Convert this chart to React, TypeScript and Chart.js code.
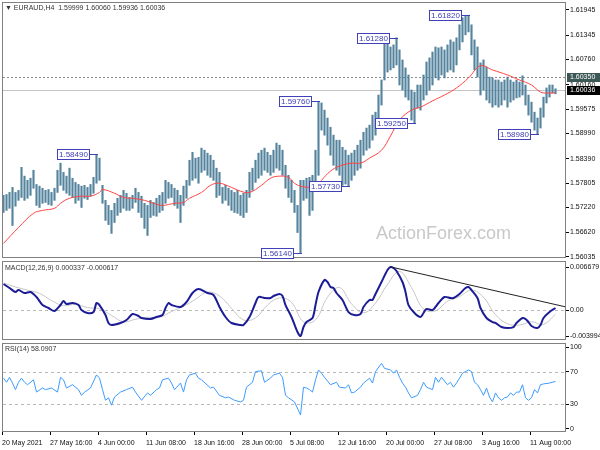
import React, { useEffect, useRef } from 'react';
import { Chart, registerables } from 'chart.js';
Chart.register(...registerables);

// ---- Price bars (H4, two bars per item) ----
const highs = [
  1.5751,1.5753,1.5758,1.5770,1.5758,1.5763,1.5818,1.5797,1.5787,1.5792,
  1.5811,1.5777,1.5773,1.5768,1.5763,1.5765,1.5758,1.5768,1.5811,1.5828,
  1.5806,1.5797,1.5816,1.5792,1.5782,1.5777,1.5773,1.5775,1.5770,1.5777,
  1.5794,1.5849,1.5840,1.5775,1.5739,1.5727,1.5715,1.5732,1.5744,1.5751,
  1.5763,1.5756,1.5746,1.5751,1.5768,1.5758,1.5749,1.5732,1.5727,1.5739,
  1.5734,1.5744,1.5751,1.5758,1.5787,1.5782,1.5777,1.5768,1.5763,1.5751,
  1.5773,1.5787,1.5835,1.5854,1.5840,1.5842,1.5864,1.5859,1.5852,1.5847,
  1.5835,1.5816,1.5806,1.5770,1.5775,1.5768,1.5763,1.5758,1.5763,1.5751,
  1.5756,1.5763,1.5806,1.5816,1.5835,1.5852,1.5859,1.5864,1.5854,1.5847,
  1.5859,1.5876,1.5871,1.5859,1.5823,1.5799,1.5787,1.5763,1.5727,1.5787,
  1.5787,1.5792,1.5794,1.5799,1.5859,1.5976,1.5972,1.5955,1.5936,1.5914,
  1.5895,1.5883,1.5883,1.5866,1.5859,1.5847,1.5852,1.5859,1.5871,1.5883,
  1.5902,1.5912,1.5919,1.5943,1.5950,1.5991,1.6027,1.6123,1.6116,1.6106,
  1.6111,1.6128,1.6099,1.6075,1.6056,1.6039,1.6003,1.5998,1.6015,1.6015,
  1.6039,1.6070,1.6080,1.6094,1.6106,1.6104,1.6106,1.6099,1.6111,1.6123,
  1.6118,1.6128,1.6159,1.6176,1.6180,1.6182,1.6159,1.6123,1.6106,1.6068,
  1.6075,1.6058,1.6034,1.6032,1.6027,1.6027,1.6022,1.6027,1.6034,1.6027,
  1.6022,1.6027,1.6022,1.6037,1.6015,1.5991,1.5974,1.5950,1.5936,1.5960,
  1.5986,1.6008,1.6015,1.6015,1.6006,
];
const lows = [
  1.5710,1.5715,1.5720,1.5679,1.5725,1.5739,1.5746,1.5739,1.5744,1.5751,
  1.5768,1.5727,1.5722,1.5732,1.5734,1.5729,1.5727,1.5739,1.5758,1.5775,
  1.5763,1.5756,1.5751,1.5746,1.5732,1.5739,1.5722,1.5744,1.5741,1.5749,
  1.5756,1.5780,1.5787,1.5732,1.5691,1.5681,1.5660,1.5686,1.5703,1.5710,
  1.5720,1.5715,1.5715,1.5720,1.5734,1.5710,1.5698,1.5672,1.5655,1.5698,
  1.5703,1.5701,1.5710,1.5715,1.5732,1.5744,1.5746,1.5727,1.5720,1.5686,
  1.5727,1.5744,1.5775,1.5787,1.5792,1.5780,1.5806,1.5811,1.5799,1.5794,
  1.5787,1.5746,1.5751,1.5732,1.5739,1.5727,1.5715,1.5710,1.5708,1.5703,
  1.5698,1.5710,1.5746,1.5763,1.5782,1.5792,1.5799,1.5811,1.5806,1.5799,
  1.5806,1.5816,1.5811,1.5799,1.5768,1.5746,1.5734,1.5710,1.5662,1.5614,
  1.5739,1.5744,1.5703,1.5715,1.5763,1.5799,1.5907,1.5895,1.5871,1.5847,
  1.5823,1.5811,1.5799,1.5775,1.5778,1.5773,1.5787,1.5799,1.5811,1.5816,
  1.5847,1.5859,1.5864,1.5883,1.5895,1.5931,1.5967,1.6027,1.6046,1.6051,
  1.6056,1.6063,1.6015,1.6003,1.5986,1.5979,1.5931,1.5925,1.5960,1.5955,
  1.5979,1.5991,1.6003,1.6015,1.6032,1.6027,1.6039,1.6032,1.6046,1.6051,
  1.6046,1.6063,1.6099,1.6118,1.6135,1.6142,1.6087,1.6051,1.6034,1.5991,
  1.6003,1.5979,1.5972,1.5962,1.5967,1.5962,1.5967,1.5979,1.5962,1.5974,
  1.5979,1.5984,1.5986,1.5991,1.5967,1.5943,1.5926,1.5907,1.5898,1.5912,
  1.5938,1.5972,1.5986,1.5996,1.5994,
];

// ---- Moving average (red) ----
const maIdx = [0,5,10,13,17,19,22,26,29,32,33,37,40,43,47,50,53,57,60,62,66,69,72,76,79,82,86,89,92,95,97,99,102,104,106,109,112,116,119,122,126,129,132,136,139,143,147,151,155,159,163,168,172,176,179,181,184];
const maVal = [1.5636,1.5674,1.5708,1.5715,1.5720,1.5732,1.5744,1.5749,1.5749,1.5758,1.5765,1.5756,1.5746,1.5744,1.5739,1.5732,1.5727,1.5732,1.5734,1.5744,1.5758,1.5775,1.5780,1.5770,1.5761,1.5758,1.5775,1.5792,1.5797,1.5794,1.5780,1.5773,1.5770,1.5770,1.5787,1.5809,1.5821,1.5828,1.5828,1.5840,1.5859,1.5893,1.5931,1.5955,1.5962,1.5977,1.5991,1.6008,1.6032,1.6061,1.6051,1.6039,1.6027,1.6015,1.5998,1.5996,1.5996];

// ---- MACD ----
const macdIdx = [0,2,4,5,7,9,11,13,15,17,19,20,21,23,25,26,28,30,31,32,34,35,36,39,41,43,45,46,49,51,53,54,55,56,59,61,63,65,68,70,72,74,76,79,80,82,84,85,87,89,90,92,93,94,96,98,99,100,101,103,104,105,107,108,109,110,111,113,115,117,119,120,122,123,124,126,128,129,130,131,133,134,135,137,139,140,141,143,144,145,147,149,150,152,154,155,156,158,159,161,163,164,166,168,170,171,173,174,175,176,178,179,180,182,184];
const macdVal = [0.00405,0.00343,0.00282,0.00312,0.00266,0.00282,0.00204,0.00080,0.00034,-0.00012,0.00080,0.00142,0.00096,0.00111,0.00080,0.00003,-0.00043,-0.00028,0.00111,0.00080,-0.00074,-0.00198,-0.00229,-0.00198,-0.00152,-0.00059,-0.00090,-0.00121,-0.00136,-0.00105,-0.00074,0.00034,0.00111,0.00080,0.00050,0.00127,0.00266,0.00328,0.00266,0.00235,0.00050,-0.00105,-0.00198,-0.00229,-0.00229,-0.00105,0.00111,0.00204,0.00189,0.00189,0.00220,0.00251,0.00220,0.00080,-0.00105,-0.00337,-0.00399,-0.00260,-0.00183,-0.00121,0.00080,0.00282,0.00467,0.00436,0.00359,0.00343,0.00266,0.00158,-0.00028,-0.00074,-0.00059,0.00050,0.00158,0.00158,0.00251,0.00436,0.00622,0.00668,0.00653,0.00606,0.00436,0.00282,0.00080,-0.00043,-0.00105,-0.00043,0.00019,0.00003,0.00050,0.00111,0.00204,0.00189,0.00189,0.00251,0.00343,0.00359,0.00312,0.00189,0.00034,-0.00121,-0.00183,-0.00198,-0.00260,-0.00275,-0.00260,-0.00198,-0.00121,-0.00136,-0.00183,-0.00244,-0.00275,-0.00229,-0.00121,-0.00028,0.00034];
const sigIdx = [0,4,8,12,16,20,24,28,32,36,40,44,48,52,56,60,64,68,72,76,80,84,88,92,96,100,104,108,112,116,120,124,128,132,136,140,144,148,152,156,160,164,168,172,176,180,184];
const sigVal = [0.0042,0.0036,0.0031,0.0026,0.0015,0.0007,0.0009,0.0004,0.0002,-0.0008,-0.0018,-0.0014,-0.0011,-0.0011,-0.0002,0.0006,0.0017,0.0028,0.0022,0.0003,-0.0015,-0.0012,0.0008,0.0019,0.0012,-0.0018,-0.0015,0.0020,0.0035,0.0010,-0.0004,0.0011,0.0040,0.0060,0.0035,0.0002,-0.0001,0.0014,0.0021,0.0031,0.0020,-0.0007,-0.0021,-0.0023,-0.0018,-0.0022,-0.0006];
const trendIdx = [129, 187.5];
const trendVal = [0.00670, 0.00050];

// ---- RSI(14) ----
const rsiIdx = [0,1,2,3,4,5,6,7,8,10,11,13,14,16,18,19,20,21,23,25,26,27,29,31,32,33,34,35,36,37,39,41,43,44,46,48,49,51,52,53,55,56,57,59,60,61,62,64,65,66,69,70,72,74,75,77,79,80,81,83,84,86,87,89,90,92,93,94,95,97,99,100,101,102,103,104,105,106,107,109,111,112,114,115,116,117,119,120,122,123,124,126,127,129,130,131,132,133,134,135,136,138,139,140,141,143,144,145,146,148,149,150,151,153,155,156,157,158,159,160,161,162,163,164,165,166,167,168,169,170,171,172,173,174,175,176,177,178,179,180,182,184];
const rsiVal = [62,57,63,56,48,57,62,57,54,60,45,50,48,50,45,63,60,50,54,48,41,45,50,66,62,48,35,38,29,39,45,48,51,45,35,44,41,48,50,60,62,56,48,56,45,60,66,68,62,60,50,51,41,38,39,35,33,35,51,57,70,71,57,62,66,68,63,41,38,33,17,51,50,48,45,60,72,68,63,54,57,51,50,54,44,45,51,56,62,56,70,80,74,72,68,72,63,56,51,44,38,41,48,57,51,48,63,57,63,54,57,51,56,68,72,70,57,54,48,41,50,39,33,44,38,35,38,39,44,41,45,45,54,38,35,38,48,44,54,55,56,58.09];

// ---- Axes / labels ----
const priceTicks = [1.61945,1.61345,1.60760,1.60160,1.59575,1.58990,1.58390,1.57805,1.57220,1.56620,1.56035];
const macdTicks = [0.006679, 0, -0.003994];
const macdTickLabels = ['0.006679', '0.00', '-0.003994'];
const rsiTicks = [100, 70, 30, 0];
const rsiLevels = [70, 30];
const xTickIdx = [-0.5,15.5,31.5,47.5,63.5,79.5,95.5,111.5,127.5,143.5,159.5,175.5];
const xTickLabels = ['20 May 2021','27 May 16:00','4 Jun 00:00','11 Jun 08:00','18 Jun 16:00','28 Jun 00:00','5 Jul 08:00','12 Jul 16:00','20 Jul 00:00','27 Jul 08:00','3 Aug 16:00','11 Aug 00:00'];
const zzIdx = [31, 99, 105, 115, 131, 137, 155, 178];
const zzPrice = [1.58490, 1.56140, 1.59760, 1.57730, 1.61280, 1.59250, 1.61820, 1.58980];
const askLevel = 1.60350;
const bidLevel = 1.60036;
const mainTitle = '\u25BC EURAUD,H4  1.59999 1.60060 1.59936 1.60036';
const macdTitle = 'MACD(12,26,9) 0.000337 -0.000617';
const rsiTitle = 'RSI(14) 58.0907';
const watermark = 'ActionForex.com';

const FONT = "'Liberation Sans', Arial, sans-serif";
const X_MIN = -0.5;
const X_MAX = 187.5;

function xScale(display: boolean) {
  return {
    type: 'linear', min: X_MIN, max: X_MAX, display, offset: false,
    grid: { drawOnChartArea: false, drawTicks: true, tickLength: 3, color: '#000', offset: false },
    border: { display: false },
    afterBuildTicks: (s: any) => { s.ticks = xTickIdx.map((v) => ({ value: v })); },
    afterFit: (s: any) => {
      s.height = display ? 18 : 0;
      s.paddingLeft = 0; s.paddingRight = 0; s.paddingTop = 0; s.paddingBottom = 0;
    },
    ticks: {
      autoSkip: false, maxRotation: 0, minRotation: 0, align: 'start', padding: 4,
      color: '#111', font: { family: FONT, size: 7 },
      callback: (_v: any, i: number) => xTickLabels[i],
    },
  };
}

function yScale(min: number, max: number, ticks: number[], labels: string[]) {
  return {
    type: 'linear', position: 'right', min, max,
    grid: { drawOnChartArea: false, drawTicks: true, tickLength: 3, color: '#000' },
    border: { display: false },
    afterBuildTicks: (s: any) => { s.ticks = ticks.map((v) => ({ value: v })); },
    afterFit: (s: any) => {
      s.width = 34;
      s.paddingLeft = 0; s.paddingRight = 0; s.paddingTop = 0; s.paddingBottom = 0;
    },
    ticks: {
      autoSkip: false, padding: 1, color: '#111', font: { family: FONT, size: 7 },
      callback: (_v: any, i: number) => labels[i],
    },
  };
}

function drawFrame(chart: any) {
  const { ctx, chartArea: a } = chart;
  ctx.save();
  ctx.strokeStyle = '#808080';
  ctx.lineWidth = 1;
  ctx.strokeRect(a.left + 0.5, a.top + 0.5, a.width - 1, a.height - 1);
  ctx.restore();
}

function drawTitle(chart: any, text: string, dy: number) {
  const { ctx, chartArea: a } = chart;
  ctx.save();
  ctx.fillStyle = '#333';
  ctx.font = `7px ${FONT}`;
  ctx.textBaseline = 'middle';
  ctx.textAlign = 'left';
  ctx.fillText(text, a.left + 3, a.top + dy);
  ctx.restore();
}

function hLine(chart: any, value: number, color: string, dash: number[]) {
  const { ctx, chartArea: a, scales } = chart;
  const py = Math.round(scales.y.getPixelForValue(value)) + 0.5;
  ctx.save();
  ctx.strokeStyle = color;
  ctx.lineWidth = 1;
  ctx.setLineDash(dash);
  ctx.beginPath();
  ctx.moveTo(a.left + 1, py);
  ctx.lineTo(a.right - 1, py);
  ctx.stroke();
  ctx.restore();
}

const mainPlugin = {
  id: 'mainOverlay',
  beforeDatasetsDraw(chart: any) {
    const { ctx, chartArea: a } = chart;
    ctx.save();
    ctx.fillStyle = '#c8c8c8';
    ctx.font = `18px ${FONT}`;
    ctx.textBaseline = 'alphabetic';
    ctx.fillText(watermark, a.left + 374, a.bottom - 19.5);
    ctx.restore();
    hLine(chart, askLevel, '#8a8a8a', [2, 2]);
    hLine(chart, bidLevel, '#c4c4c4', []);
  },
  afterDraw(chart: any) {
    const { ctx, chartArea: a, scales } = chart;
    drawFrame(chart);
    drawTitle(chart, mainTitle, 6);
    // zigzag labels
    ctx.save();
    ctx.font = `8px ${FONT}`;
    ctx.textBaseline = 'middle';
    zzIdx.forEach((idx, k) => {
      const px = Math.round(scales.x.getPixelForValue(idx));
      const py = Math.round(scales.y.getPixelForValue(zzPrice[k]));
      const text = zzPrice[k].toFixed(5);
      const w = Math.ceil(ctx.measureText(text).width) + 4;
      const right = px - 7;
      const left = right - w;
      ctx.fillStyle = '#fff';
      ctx.fillRect(left, py - 5, w, 11);
      ctx.strokeStyle = '#4040b8';
      ctx.lineWidth = 1;
      ctx.strokeRect(left + 0.5, py - 4.5, w - 1, 10);
      ctx.beginPath();
      ctx.moveTo(right, py + 0.5);
      ctx.lineTo(px + 1, py + 0.5);
      ctx.stroke();
      ctx.fillStyle = '#4040b8';
      ctx.fillText(text, left + 2, py + 0.5);
    });
    // right-side price boxes
    const box = (value: number, fill: string) => {
      const py = Math.round(scales.y.getPixelForValue(value));
      ctx.fillStyle = fill;
      ctx.fillRect(a.right + 1, py - 4, 34, 9);
      ctx.fillStyle = '#fff';
      ctx.font = `7px ${FONT}`;
      ctx.fillText(value.toFixed(5), a.right + 4, py + 0.5);
    };
    box(askLevel, '#3b5856');
    box(bidLevel, '#000');
    ctx.restore();
  },
};

const macdPlugin = {
  id: 'macdOverlay',
  beforeDatasetsDraw(chart: any) {
    hLine(chart, 0, '#b8b8b8', [3, 3]);
  },
  afterDraw(chart: any) {
    drawFrame(chart);
    drawTitle(chart, macdTitle, 7);
  },
};

const rsiPlugin = {
  id: 'rsiOverlay',
  beforeDatasetsDraw(chart: any) {
    rsiLevels.forEach((lv) => hLine(chart, lv, '#b8b8b8', [3, 3]));
  },
  afterDraw(chart: any) {
    drawFrame(chart);
    drawTitle(chart, rsiTitle, 6);
  },
};

export default function App() {
  const mainRef = useRef<HTMLCanvasElement>(null);
  const macdRef = useRef<HTMLCanvasElement>(null);
  const rsiRef = useRef<HTMLCanvasElement>(null);

  useEffect(() => {
    const common: any = {
      animation: false,
      responsive: false,
      maintainAspectRatio: false,
      events: [],
      plugins: { legend: { display: false }, tooltip: { enabled: false } },
    };

    const main = new Chart(mainRef.current as HTMLCanvasElement, {
      type: 'bar',
      data: {
        datasets: [
          {
            type: 'line',
            data: maIdx.map((x, i) => ({ x, y: maVal[i] })),
            borderColor: '#ff4444', borderWidth: 1, pointRadius: 0, tension: 0.4, order: 0,
          } as any,
          {
            type: 'bar',
            data: highs.map((h, i) => ({ x: i, y: [lows[i], h] })),
            backgroundColor: '#56849f', borderWidth: 0, barThickness: 1.5, order: 1,
          } as any,
        ],
      },
      options: {
        ...common,
        layout: { padding: { left: 2, top: 2, right: 0, bottom: 7 } },
        scales: {
          x: xScale(false),
          y: yScale(1.56011, 1.62136, priceTicks, priceTicks.map((v) => v.toFixed(5))),
        },
      },
      plugins: [mainPlugin],
    } as any);

    const macd = new Chart(macdRef.current as HTMLCanvasElement, {
      type: 'line',
      data: {
        datasets: [
          {
            data: trendIdx.map((x, i) => ({ x, y: trendVal[i] })),
            borderColor: '#222', borderWidth: 1, pointRadius: 0, order: 0,
          },
          {
            data: macdIdx.map((x, i) => ({ x, y: macdVal[i] })),
            borderColor: '#1c1c96', borderWidth: 2, pointRadius: 0, tension: 0.3, order: 1,
          },
          {
            data: sigIdx.map((x, i) => ({ x, y: sigVal[i] })),
            borderColor: '#c6c6c6', borderWidth: 1, pointRadius: 0, tension: 0.4, order: 2,
          },
        ],
      },
      options: {
        ...common,
        layout: { padding: { left: 2, top: 2, right: 0, bottom: 2 } },
        scales: {
          x: xScale(false),
          y: yScale(-0.00461, 0.00761, macdTicks, macdTickLabels),
        },
      },
      plugins: [macdPlugin],
    } as any);

    const rsi = new Chart(rsiRef.current as HTMLCanvasElement, {
      type: 'line',
      data: {
        datasets: [
          {
            data: rsiIdx.map((x, i) => ({ x, y: rsiVal[i] })),
            borderColor: '#3d9bff', borderWidth: 1, pointRadius: 0, tension: 0,
          },
        ],
      },
      options: {
        ...common,
        layout: { padding: { left: 2, top: 2, right: 0, bottom: 0 } },
        scales: {
          x: xScale(true),
          y: yScale(-3.7, 104.9, rsiTicks, rsiTicks.map((v) => String(v))),
        },
      },
      plugins: [rsiPlugin],
    } as any);

    return () => {
      main.destroy();
      macd.destroy();
      rsi.destroy();
    };
  }, []);

  const cv = (top: number, h: number): React.CSSProperties => ({
    position: 'absolute', left: 0, top, width: 600, height: h, display: 'block',
  });

  return (
    <div style={{ position: 'absolute', left: 0, top: 0, width: 600, height: 450, background: '#fff', overflow: 'hidden' }}>
      <canvas ref={mainRef} width={600} height={265} style={cv(0, 265)} />
      <canvas ref={macdRef} width={600} height={83} style={cv(259, 83)} />
      <canvas ref={rsiRef} width={600} height={109} style={cv(341, 109)} />
    </div>
  );
}
